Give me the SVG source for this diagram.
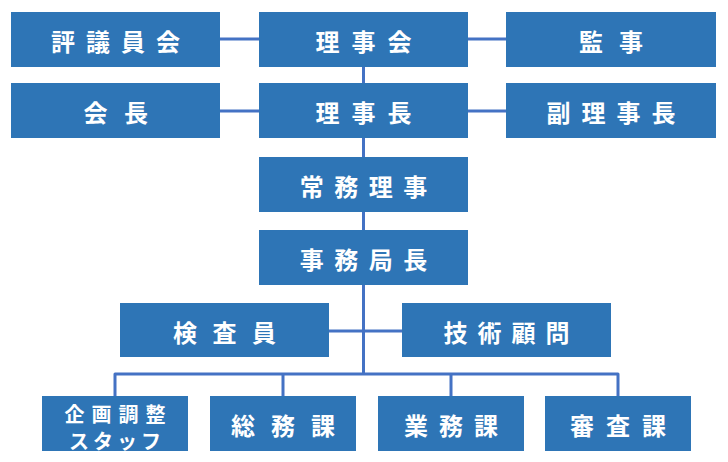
<svg xmlns="http://www.w3.org/2000/svg" width="728" height="462" viewBox="0 0 728 462">
<style>
.box{fill:#2E75B6}
.t{font-family:"Noto Sans CJK JP","Noto Sans CJK SC",sans-serif;font-weight:bold;font-size:24px;fill:#FFFFFF;text-anchor:middle;dominant-baseline:central}
.s{font-size:20px}
.c{fill:none;stroke:#4472C4;stroke-width:3;stroke-linejoin:round}
</style>
<rect width="728" height="462" fill="#FFFFFF"/>
<g id="connectors">
<path class="c" d="M220 39H259M468 39H506M220 111H259M468 111H506"/>
<path class="c" d="M363.5 67V374"/>
<path class="c" d="M329 331H402"/>
<path class="c" d="M115 396V374H618V396M283 374V396M451 374V396"/>
</g>
<g id="n-hyogiinkai"><rect class="box" x="11" y="12" width="209" height="55"/><text class="t" x="121" y="40" letter-spacing="11">評議員会</text></g>
<g id="n-rijikai"><rect class="box" x="259" y="12" width="209" height="55"/><text class="t" x="369.5" y="40" letter-spacing="12">理事会</text></g>
<g id="n-kanji"><rect class="box" x="506" y="12" width="210" height="55"/><text class="t" x="619" y="40" letter-spacing="16">監事</text></g>
<g id="n-kaicho"><rect class="box" x="11" y="83" width="209" height="55"/><text class="t" x="124" y="111" letter-spacing="16.5">会長</text></g>
<g id="n-rijicho"><rect class="box" x="259" y="83" width="209" height="55"/><text class="t" x="369.5" y="111" letter-spacing="12">理事長</text></g>
<g id="n-fukurijicho"><rect class="box" x="506" y="83" width="210" height="55"/><text class="t" x="616.5" y="111" letter-spacing="11">副理事長</text></g>
<g id="n-jomuriji"><rect class="box" x="259" y="157" width="209" height="55"/><text class="t" x="368.7" y="185" letter-spacing="10.5">常務理事</text></g>
<g id="n-jimukyokucho"><rect class="box" x="259" y="230" width="209" height="55"/><text class="t" x="368.7" y="258" letter-spacing="10.5">事務局長</text></g>
<g id="n-kensain"><rect class="box" x="120" y="303" width="209" height="54"/><text class="t" x="232.2" y="331" letter-spacing="15.5">検査員</text></g>
<g id="n-gijutsukomon"><rect class="box" x="402" y="303" width="209" height="54"/><text class="t" x="511.5" y="331" letter-spacing="10">技術顧問</text></g>
<g id="n-kikaku"><rect class="box" x="42" y="396" width="146" height="55"/><text class="t s" x="118.5" y="413" letter-spacing="7">企画調整</text><text class="t s" x="117" y="440" letter-spacing="4">スタッフ</text></g>
<g id="n-somuka"><rect class="box" x="210" y="396" width="146" height="55"/><text class="t" x="291" y="424" letter-spacing="16">総務課</text></g>
<g id="n-gyomuka"><rect class="box" x="378" y="396" width="146" height="55"/><text class="t" x="456.5" y="424" letter-spacing="11">業務課</text></g>
<g id="n-shinsaka"><rect class="box" x="545" y="396" width="146" height="55"/><text class="t" x="624" y="424" letter-spacing="12">審査課</text></g>
</svg>
